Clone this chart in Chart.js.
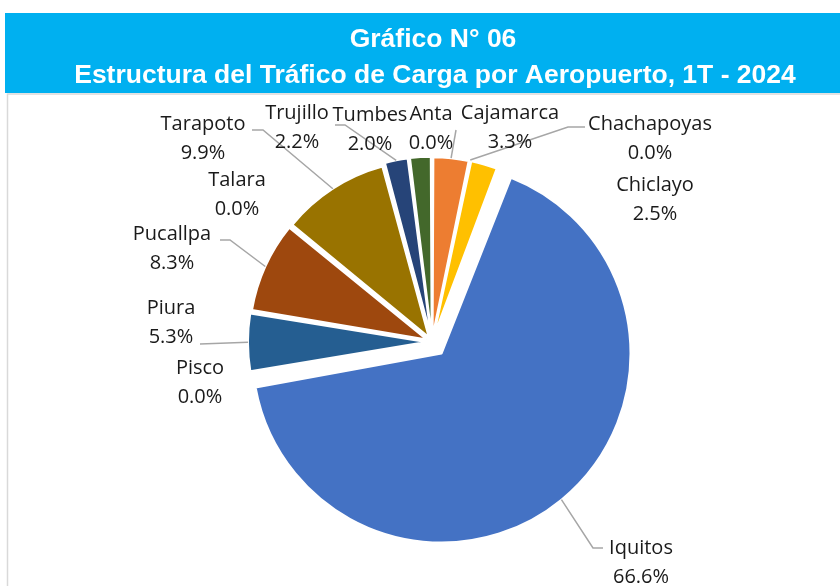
<!DOCTYPE html>
<html lang="es">
<head>
<meta charset="utf-8">
<title>Gráfico N° 06</title>
<script src="https://cdn.jsdelivr.net/npm/chart.js@4.4.1/dist/chart.umd.min.js"></script>
<style>
  html, body { margin: 0; padding: 0; background: #fff; }
  #contenedor { position: relative; width: 840px; height: 586px; }
</style>
</head>
<body>
<div id="contenedor">
  <canvas id="graficoCarga" width="840" height="586"></canvas>
</div>
<script>
// Datos del gráfico
const titulo = "Gráfico N° 06";
const subtitulo = "Estructura del Tráfico de Carga por Aeropuerto, 1T - 2024";
const aeropuertos = ["Anta", "Cajamarca", "Chachapoyas", "Chiclayo", "Iquitos", "Pisco",
  "Piura", "Pucallpa", "Talara", "Tarapoto", "Trujillo", "Tumbes"];
const participacion = [0.0, 3.3, 0.0, 2.5, 66.6, 0.0, 5.3, 8.3, 0.0, 9.9, 2.2, 2.0];

// Estilo
const colores = ["#5B9BD5", "#ED7D31", "#A5A5A5", "#FFC000", "#4472C4", "#70AD47",
  "#255E91", "#9E480E", "#636363", "#997300", "#264478", "#43682B"];
const separacion = [24, 24, 24, 24, 60, 24, 24, 24, 24, 24, 24, 24];

// posición de cada etiqueta respecto al centro del pastel
const posEtiquetas = [
  [-1, -228], [78, -229], [218, -218], [223, -157], [209, 206], [-232, 26],
  [-261, -34], [-260, -108], [-195, -162], [-229, -218], [-135, -229], [-62, -227]
];
// líneas guía: puntos del lado de la etiqueta, luego se une al borde del sector
const guias = [
  null, [[24, -212]], [[153, -215], [136, -215]], null, [[171, 206], [161, 206]], null,
  [[-232, 2]], [[-212, -102], [-202, -102]], null, [[-180, -212], [-169, -212]],
  [[-97, -217], [-87, -217]], null
];

const fuenteEtiqueta = "20px 'Open Sans'";
const altoLinea = 29;

// 🔷 Banda del título y marco
const fondoTitulo = {
  id: "fondoTitulo",
  beforeDraw(chart) {
    const ctx = chart.ctx;
    ctx.save();
    ctx.strokeStyle = "#D9D9D9";
    ctx.lineWidth = 1.5;
    ctx.beginPath();
    ctx.moveTo(7.5, 586);
    ctx.lineTo(7.5, 94);
    ctx.lineTo(840, 94);
    ctx.stroke();

    ctx.fillStyle = "#00B0F0";
    ctx.fillRect(5, 13, 835, 80);
    ctx.fillStyle = "#FFFFFF";
    ctx.font = "bold 26.5px 'Liberation Sans', Arial, sans-serif";
    ctx.textAlign = "center";
    ctx.textBaseline = "alphabetic";
    ctx.fillText(titulo, 433, 47);
    ctx.fillText(subtitulo, 435, 83);
    ctx.restore();
  }
};

// punto del borde exterior de un sector (con su separación)
function bordeSector(arc) {
  const medio = (arc.startAngle + arc.endAngle) / 2;
  const t = (arc.options.offset || 0) / 4;
  const circ = arc.endAngle - arc.startAngle;
  const fix = 1 - Math.sin(Math.min(Math.PI, circ));
  const r = arc.outerRadius + t * fix + t;
  return { x: arc.x + Math.cos(medio) * r, y: arc.y + Math.sin(medio) * r };
}

// 🔷 Etiquetas con líneas guía
const etiquetas = {
  id: "etiquetas",
  afterDatasetsDraw(chart) {
    const ctx = chart.ctx;
    const arcos = chart.getDatasetMeta(0).data;
    const cx = arcos[0].x;
    const cy = arcos[0].y;
    ctx.save();

    ctx.strokeStyle = "#A6A6A6";
    ctx.lineWidth = 1.5;
    guias.forEach((g, i) => {
      if (!g) return;
      const fin = bordeSector(arcos[i]);
      ctx.beginPath();
      ctx.moveTo(cx + g[0][0], cy + g[0][1]);
      g.slice(1).forEach(p => ctx.lineTo(cx + p[0], cy + p[1]));
      ctx.lineTo(fin.x, fin.y);
      ctx.stroke();
    });

    ctx.fillStyle = "#1A1A1A";
    ctx.font = fuenteEtiqueta;
    ctx.textAlign = "center";
    ctx.textBaseline = "middle";
    aeropuertos.forEach((nombre, i) => {
      const x = cx + posEtiquetas[i][0];
      const y = cy + posEtiquetas[i][1];
      ctx.fillText(nombre, x, y);
      ctx.fillText(participacion[i].toFixed(1) + "%", x, y + altoLinea);
    });
    ctx.restore();
  }
};

const canvas = document.getElementById("graficoCarga");

new Chart(canvas, {
  type: "pie",
  data: {
    labels: aeropuertos,
    datasets: [{
      data: participacion,
      backgroundColor: colores,
      borderColor: "#FFFFFF",
      borderWidth: 2,
      offset: separacion
    }]
  },
  options: {
    responsive: false,
    animation: false,
    radius: 174,
    layout: { padding: { left: 24, right: 0, top: 98, bottom: 0 } },
    plugins: {
      legend: { display: false },
      title: { display: false },
      tooltip: { enabled: false }
    },
    events: []
  },
  plugins: [fondoTitulo, etiquetas]
});
</script>
</body>
</html>
